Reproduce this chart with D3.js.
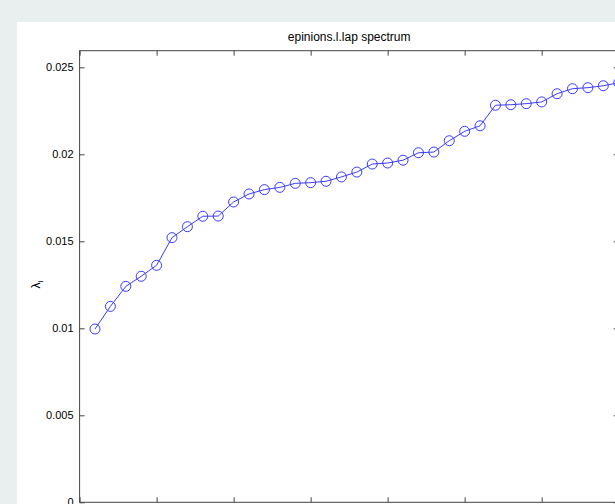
<!DOCTYPE html>
<html>
<head>
<meta charset="utf-8">
<script src="https://cdn.jsdelivr.net/npm/d3@7/dist/d3.min.js"></script>
<style>
  html, body { margin: 0; padding: 0; background: #e9efef; }
  svg { display: block; }
  text { font-family: "Liberation Sans", Arial, Helvetica, sans-serif; fill: #000; }
</style>
</head>
<body>
<svg id="chart" width="615" height="504"></svg>
<script>
// Eigenvalue index and the Laplacian spectrum values
const indices = d3.range(1, 36);
const eigenvalues = [
  0.00996, 0.01126, 0.01241, 0.01299, 0.01362, 0.01521, 0.01584, 0.01644, 0.01645, 0.01726,
  0.01772, 0.01797, 0.01810, 0.01833, 0.01837, 0.01845, 0.01870, 0.01898, 0.01944, 0.01950,
  0.01966, 0.02009, 0.02013, 0.02078, 0.02132, 0.02164, 0.02282, 0.02285, 0.02291, 0.02301,
  0.02348, 0.02377, 0.02383, 0.02394, 0.02411
];
const xTicks = [0, 5, 10, 15, 20, 25, 30, 35];
const yTicks = [0, 0.005, 0.01, 0.015, 0.02, 0.025];
const yTickLabels = ["0", "0.005", "0.01", "0.015", "0.02", "0.025"];
const titleText = "epinions.l.lap spectrum";

const svg = d3.select("#chart");

// figure panel
svg.append("rect").attr("x", 17).attr("y", 22).attr("width", 700).attr("height", 600).attr("fill", "#fff");

const plot = { left: 79.6, right: 618.7, top: 50.7, bottom: 502.3 };
const x = d3.scaleLinear().domain([0, 35]).range([plot.left, plot.right]);
const yScale = d3.scaleLinear().domain([0, 0.01]).range([plot.bottom, plot.bottom - 174]);

const axisColor = "#444";
const tickLen = 5;

// box
svg.append("rect")
  .attr("x", plot.left).attr("y", plot.top)
  .attr("width", plot.right - plot.left).attr("height", plot.bottom - plot.top)
  .attr("fill", "none").attr("stroke", axisColor).attr("stroke-width", 1);

// y axis (left) with inward ticks
const yAxisL = d3.axisLeft(yScale).tickValues(yTicks).tickSize(-tickLen).tickPadding(6)
  .tickFormat((d, i) => yTickLabels[i]);
const gyl = svg.append("g").attr("transform", `translate(${plot.left},0)`).call(yAxisL);
gyl.select(".domain").remove();
gyl.selectAll(".tick line").attr("stroke", axisColor);
gyl.selectAll(".tick text").attr("font-size", 11).attr("font-family", "Liberation Sans, Arial, sans-serif");

// y axis (right) ticks
const yAxisR = d3.axisRight(yScale).tickValues(yTicks).tickSize(-tickLen).tickFormat("");
const gyr = svg.append("g").attr("transform", `translate(${plot.right},0)`).call(yAxisR);
gyr.select(".domain").remove();
gyr.selectAll(".tick line").attr("stroke", axisColor);

// x axis (bottom) ticks; labels fall below the visible area
const xAxisB = d3.axisBottom(x).tickValues(xTicks).tickSize(-tickLen).tickFormat("");
const gxb = svg.append("g").attr("transform", `translate(0,${plot.bottom})`).call(xAxisB);
gxb.select(".domain").remove();
gxb.selectAll(".tick line").attr("stroke", axisColor);

// x axis (top) ticks
const xAxisT = d3.axisTop(x).tickValues(xTicks).tickSize(-tickLen).tickFormat("");
const gxt = svg.append("g").attr("transform", `translate(0,${plot.top})`).call(xAxisT);
gxt.select(".domain").remove();
gxt.selectAll(".tick line").attr("stroke", axisColor);

// series line and circle markers
const data = indices.map((d, i) => ({ i: d, v: eigenvalues[i] }));
const lineColor = "#3a3aff";
svg.append("path")
  .datum(data)
  .attr("fill", "none")
  .attr("stroke", lineColor)
  .attr("stroke-width", 1)
  .attr("d", d3.line().x(d => x(d.i)).y(d => yScale(d.v)));

svg.append("g").selectAll("circle")
  .data(data).join("circle")
  .attr("cx", d => x(d.i)).attr("cy", d => yScale(d.v))
  .attr("r", 5)
  .attr("fill", "none").attr("stroke", lineColor).attr("stroke-width", 1);

// title
svg.append("text")
  .attr("x", (plot.left + plot.right) / 2).attr("y", 41)
  .attr("text-anchor", "middle").attr("font-size", 12)
  .text(titleText);

// y label: lambda_i
const yl = svg.append("text")
  .attr("transform", `translate(40,${(plot.top + plot.bottom) / 2 + 8}) rotate(-90)`)
  .attr("text-anchor", "middle").attr("font-size", 12);
yl.append("tspan").text("λ");
yl.append("tspan").attr("font-size", 8).attr("dy", 3).text("i");
</script>
</body>
</html>
